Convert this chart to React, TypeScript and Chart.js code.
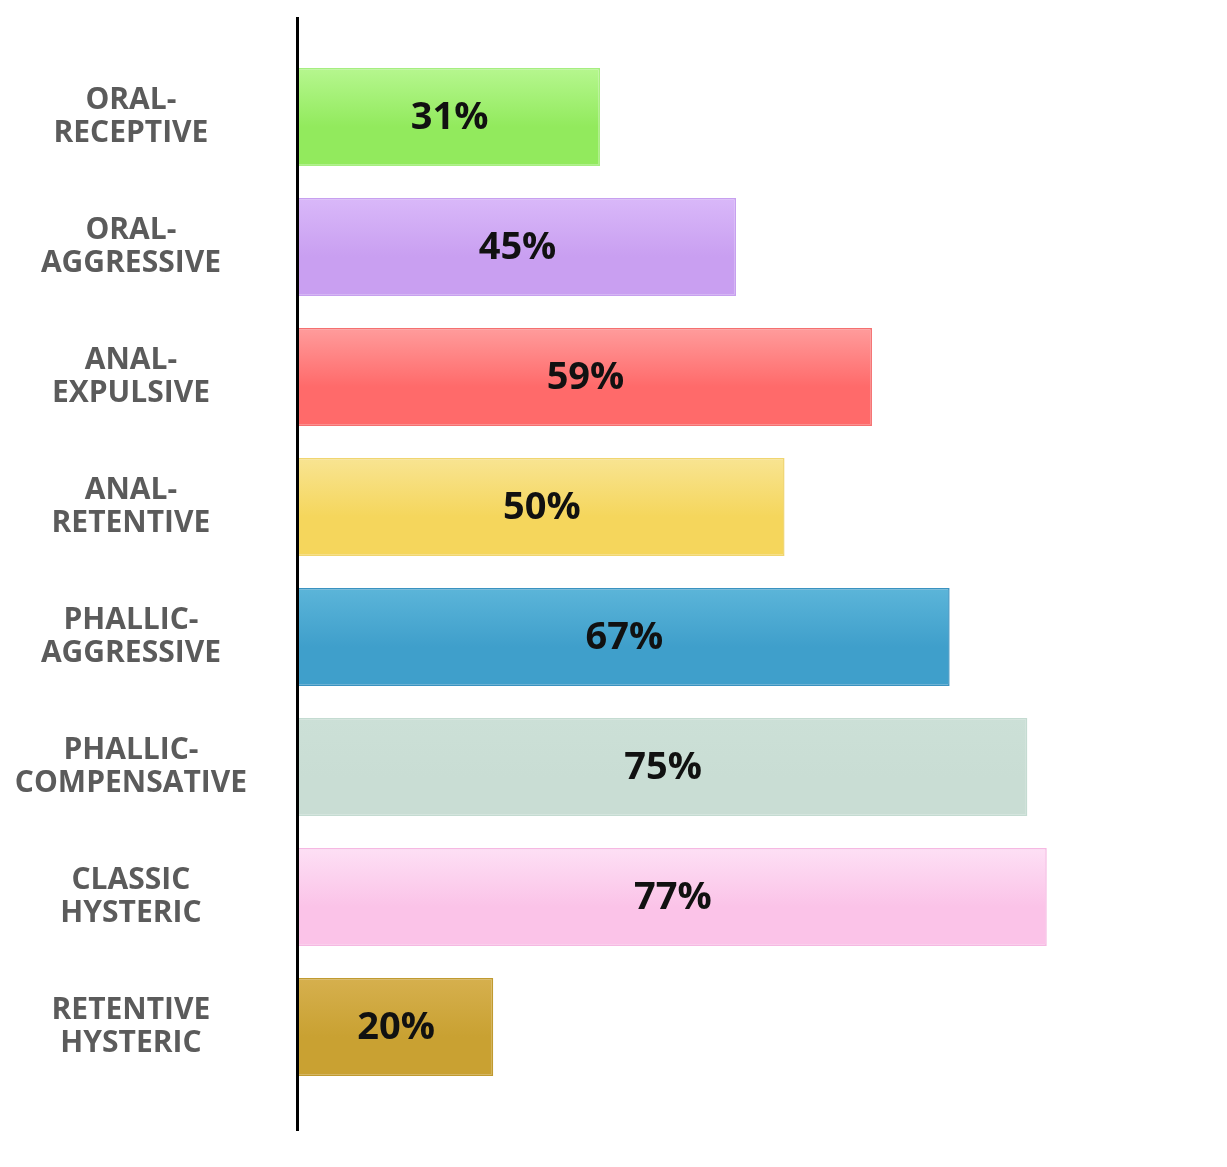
import React, { useEffect, useRef } from "react";
import { Chart, registerables } from "chart.js";

Chart.register(...registerables);

const categories: string[][] = [
  ["ORAL-", "RECEPTIVE"],
  ["ORAL-", "AGGRESSIVE"],
  ["ANAL-", "EXPULSIVE"],
  ["ANAL-", "RETENTIVE"],
  ["PHALLIC-", "AGGRESSIVE"],
  ["PHALLIC-", "COMPENSATIVE"],
  ["CLASSIC", "HYSTERIC"],
  ["RETENTIVE", "HYSTERIC"],
];
const percentages = [31, 45, 59, 50, 67, 75, 77, 20];

const topColors = ["#b6f78f", "#d9b8f9", "#ff9c9c", "#f8e492", "#5cb5d9", "#cce0d7", "#fde0f5", "#d6b04e"];
const bottomColors = ["#92ea5d", "#c99ff1", "#ff6a6a", "#f5d65c", "#3f9fcb", "#c9ddd4", "#fbc3e8", "#c9a132"];
const borderColors = ["#a6ee80", "#c7a0ef", "#f47070", "#f0d570", "#3a92c0", "#c4dbd1", "#f5b8e2", "#c09a30"];

const axisLine = {
  id: "axisLine",
  afterDatasetsDraw(chart: any) {
    const { ctx, chartArea, scales } = chart;
    const x = scales.x.getPixelForValue(0) - 1.5;
    ctx.save();
    ctx.strokeStyle = "#000";
    ctx.lineWidth = 3;
    ctx.beginPath();
    ctx.moveTo(x, chartArea.top - 35);
    ctx.lineTo(x, chartArea.bottom + 39);
    ctx.stroke();
    ctx.restore();
  },
};

const valueLabels = {
  id: "valueLabels",
  afterDatasetsDraw(chart: any) {
    const { ctx } = chart;
    const meta = chart.getDatasetMeta(0);
    ctx.save();
    ctx.font = "bold 38px 'Open Sans'";
    ctx.fillStyle = "#111";
    ctx.textAlign = "center";
    ctx.textBaseline = "middle";
    meta.data.forEach((bar: any, i: number) => {
      const cx = (bar.x + bar.base) / 2;
      ctx.fillText(percentages[i] + "%", cx, bar.y + 1);
    });
    ctx.restore();
  },
};

const App: React.FC = () => {
  const canvasRef = useRef<HTMLCanvasElement | null>(null);

  useEffect(() => {
    if (!canvasRef.current) return;
    const barPct = 0.755;
    const gradientFor = (context: any) => {
      const chart = context.chart;
      const i = context.dataIndex;
      const yScale = chart.scales?.y;
      if (!chart.chartArea || !yScale || i === undefined) return bottomColors[i ?? 0];
      const c = yScale.getPixelForValue(i);
      const h = (yScale.height / categories.length) * barPct / 2;
      const g = chart.ctx.createLinearGradient(0, c - h, 0, c + h);
      g.addColorStop(0, topColors[i]);
      g.addColorStop(0.6, bottomColors[i]);
      g.addColorStop(1, bottomColors[i]);
      return g;
    };

    const chart = new Chart(canvasRef.current, {
      type: "bar",
      data: {
        labels: categories,
        datasets: [
          {
            data: percentages,
            backgroundColor: gradientFor,
            borderColor: borderColors,
            borderWidth: 1.5,
            borderSkipped: "start",
            barPercentage: barPct,
            categoryPercentage: 1,
          },
        ],
      },
      options: {
        indexAxis: "y",
        animation: false,
        responsive: true,
        maintainAspectRatio: false,
        layout: { padding: { top: 44, bottom: 67, right: 46, left: 0 } },
        plugins: {
          legend: { display: false },
          tooltip: { enabled: false },
        },
        scales: {
          x: {
            display: false,
            min: 0,
            max: 90,
          },
          y: {
            grid: { display: false, drawTicks: false },
            border: { display: false },
            afterFit(scale: any) {
              scale.width = 291;
              scale.paddingTop = 0;
              scale.paddingBottom = 0;
            },
            ticks: {
              crossAlign: "center",
              padding: 52,
              color: "#5b5b5b",
              font: { family: "'Open Sans'", weight: "bold", size: 30, lineHeight: 1.07 },
            },
          },
        },
      },
      plugins: [axisLine, valueLabels],
    });

    return () => {
      chart.destroy();
    };
  }, []);

  return (
    <div style={{ position: "relative", width: "100%", height: "1151px", background: "#fff" }}>
      <canvas ref={canvasRef}></canvas>
    </div>
  );
};

export default App;
